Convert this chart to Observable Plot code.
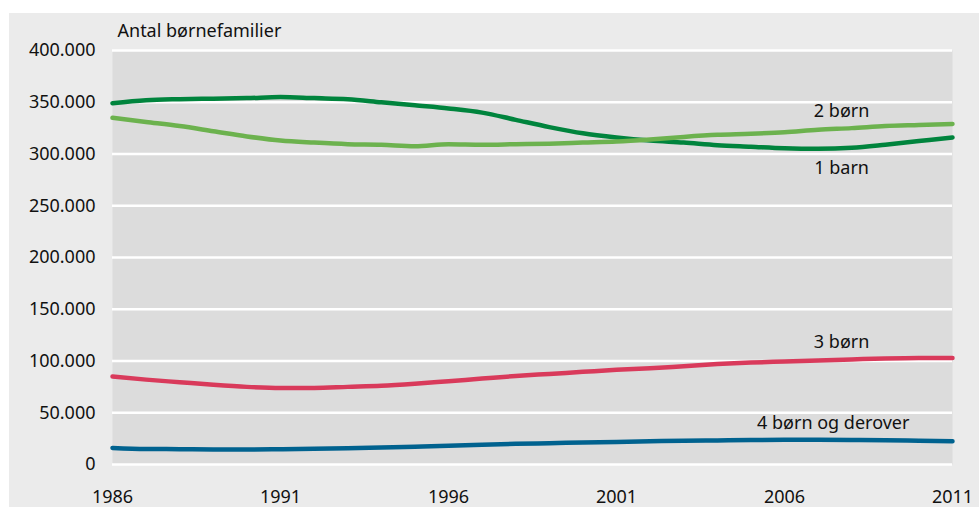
<!DOCTYPE html>
<html>
<head>
<meta charset="utf-8">
<script src="https://cdn.jsdelivr.net/npm/d3@7"></script>
<script src="https://cdn.jsdelivr.net/npm/@observablehq/plot@0.6"></script>
<style>
  html, body { margin: 0; padding: 0; background: #ffffff; }
  #wrap { position: relative; width: 979px; height: 507px; overflow: hidden; }
  #bg { position: absolute; left: 9px; top: 13px; right: 0; bottom: 0; background: #ebebeb; }
  #chart { position: absolute; left: 0; top: 0; }
  #chart svg { background: transparent; }
</style>
</head>
<body>
<div id="wrap"><div id="bg"></div><div id="chart"></div></div>
<script>
const years = [1986,1987,1988,1989,1990,1991,1992,1993,1994,1995,1996,1997,1998,1999,2000,2001,2002,2003,2004,2005,2006,2007,2008,2009,2010,2011];
const barn1 = [349000,352000,353000,353500,354000,355000,354000,353000,350000,347000,344000,340000,333000,326000,320000,316000,313000,311000,308500,307000,305500,305000,306000,309000,312500,316000];
const born2 = [335000,331000,327000,322000,317000,313000,311000,309500,309000,307500,309500,309000,309500,310000,311000,312000,314000,316500,318500,319500,321000,323500,325000,327000,328000,329000];
const born3 = [85000,82000,79500,77000,75000,74000,74000,75000,76000,78000,80500,83000,85500,87500,89500,91500,93000,95000,97000,98500,99500,100500,101500,102500,103000,103000];
const born4 = [16000,15000,14800,14500,14500,14800,15200,15800,16500,17200,18000,19200,20000,20600,21200,21800,22400,23000,23300,23600,23800,23800,23700,23500,23000,22500];

const seriesNames = ["1 barn", "2 børn", "3 børn", "4 børn og derover"];
const seriesValues = [barn1, born2, born3, born4];
const seriesColors = ["#00843d", "#6cb24e", "#d93a5b", "#00628f"];

const labelText = ["2 børn", "1 barn", "3 børn", "4 børn og derover"];
const labelX = [2007.7, 2007.7, 2007.7, 2007.45];
const labelY = [341000, 286000, 118000, 40000];

const yTicks = [0,50000,100000,150000,200000,250000,300000,350000,400000];
const xTicks = [1986,1991,1996,2001,2006,2011];
const titleText = "Antal børnefamilier";

const rows = [];
seriesNames.forEach((s, i) => years.forEach((yr, j) => rows.push({series: s, year: yr, value: seriesValues[i][j]})));
const labels = labelText.map((t, i) => ({t, x: labelX[i], y: labelY[i]}));

const fmt = d3.formatLocale({thousands: ".", grouping: [3], decimal: ","}).format(",d");
const font = "'Noto Sans', sans-serif";

const plot = Plot.plot({
  width: 979,
  height: 507,
  marginLeft: 112,
  marginRight: 27,
  marginTop: 50,
  marginBottom: 43,
  style: {fontFamily: font, fontSize: "18px", color: "#111", background: "transparent"},
  x: {domain: [1986, 2011]},
  y: {domain: [0, 400000]},
  color: {domain: seriesNames, range: seriesColors},
  marks: [
    Plot.frame({fill: "#dcdcdc", stroke: null}),
    Plot.ruleY(yTicks, {stroke: "white", strokeWidth: 2.5}),
    Plot.axisY({ticks: yTicks, tickSize: 0, tickPadding: 17, tickFormat: fmt, label: null, fontSize: 18}),
    Plot.axisX({ticks: xTicks, tickSize: 0, tickPadding: 26, tickFormat: d => String(d), label: null, fontSize: 18}),
    Plot.line(rows, {x: "year", y: "value", z: "series", stroke: "series", strokeWidth: 4.5, curve: "monotone-x"}),
    Plot.text(labels, {x: "x", y: "y", text: "t", fontSize: 18, fill: "#111", textAnchor: "middle"}),
    Plot.text([titleText], {frameAnchor: "top-left", dx: 5, dy: -26, fontSize: 18, fill: "#111", textAnchor: "start"})
  ]
});
document.getElementById("chart").appendChild(plot);
</script>
</body>
</html>
